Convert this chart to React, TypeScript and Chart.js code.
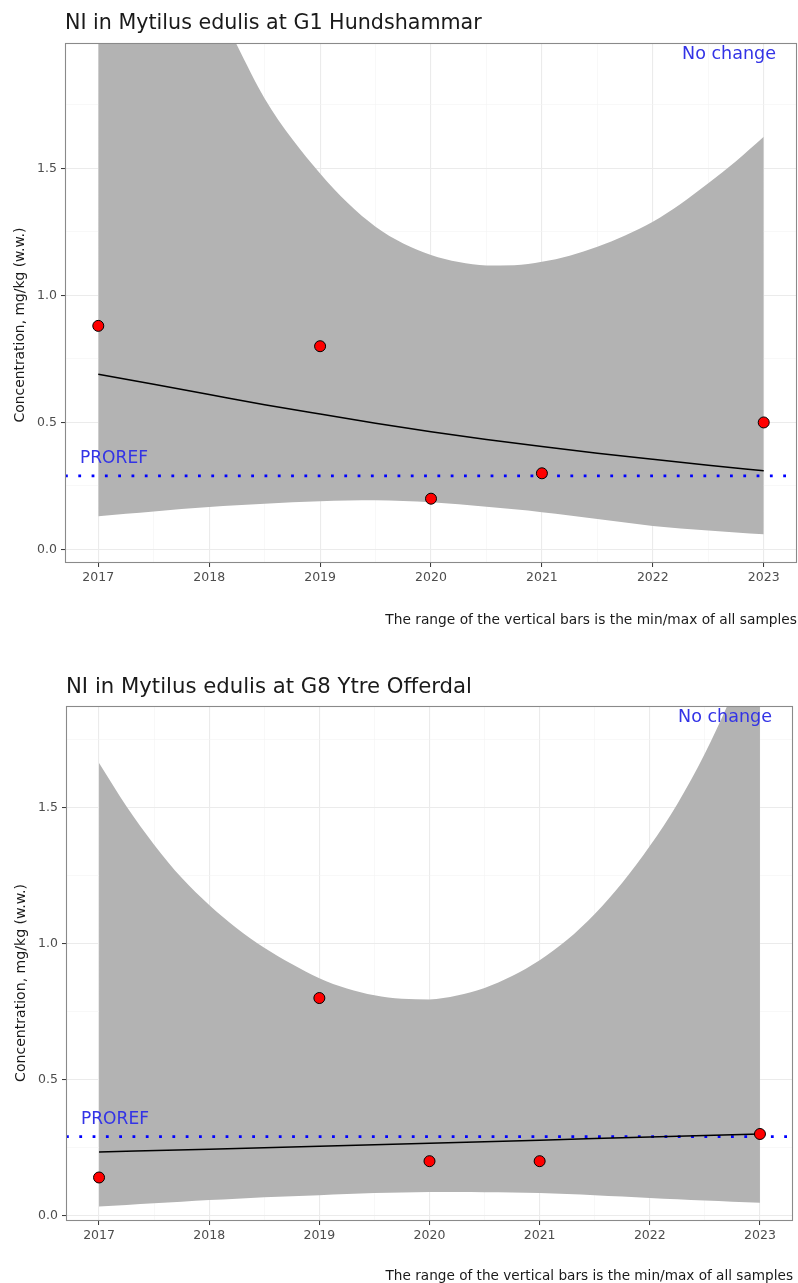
import React, { useEffect, useRef } from 'react';
import { Chart, registerables } from 'chart.js';

Chart.register(...registerables);
Chart.defaults.font.family = '"DejaVu Sans", sans-serif';

// ---------- data ----------
const bandYears = [2017, 2017.25, 2017.5, 2017.75, 2018, 2018.25, 2018.5, 2018.75, 2019, 2019.25, 2019.5, 2019.75, 2020, 2020.25, 2020.5, 2020.75, 2021, 2021.25, 2021.5, 2021.75, 2022, 2022.25, 2022.5, 2022.75, 2023];

const g1Upper = [3.48, 3.14, 2.81, 2.5, 2.21, 1.985, 1.775, 1.614, 1.48, 1.363, 1.27, 1.204, 1.159, 1.131, 1.118, 1.119, 1.132, 1.156, 1.191, 1.236, 1.29, 1.36, 1.441, 1.528, 1.624];
const g1Lower = [0.131, 0.141, 0.15, 0.159, 0.167, 0.174, 0.18, 0.186, 0.19, 0.193, 0.194, 0.191, 0.186, 0.178, 0.168, 0.158, 0.147, 0.134, 0.12, 0.106, 0.093, 0.083, 0.075, 0.067, 0.06];
const g1TrendYears = [2017, 2017.5, 2018, 2018.5, 2019, 2019.5, 2020, 2020.5, 2021, 2021.5, 2022, 2022.5, 2023];
const g1Trend = [0.69, 0.65, 0.61, 0.57, 0.533, 0.497, 0.463, 0.433, 0.405, 0.379, 0.355, 0.332, 0.31];
const g1PointYears = [2017, 2019, 2020, 2021, 2023];
const g1PointValues = [0.88, 0.8, 0.2, 0.3, 0.5];

const g8Upper = [1.664, 1.504, 1.364, 1.242, 1.142, 1.057, 0.985, 0.925, 0.873, 0.835, 0.81, 0.797, 0.795, 0.809, 0.837, 0.881, 0.939, 1.014, 1.109, 1.224, 1.359, 1.514, 1.699, 1.919, 2.179];
const g8Lower = [0.033, 0.039, 0.045, 0.051, 0.057, 0.062, 0.067, 0.071, 0.075, 0.079, 0.083, 0.085, 0.087, 0.087, 0.086, 0.085, 0.083, 0.079, 0.075, 0.07, 0.065, 0.06, 0.055, 0.051, 0.047];
const g8TrendYears = [2017, 2018, 2019, 2020, 2021, 2022, 2023];
const g8Trend = [0.234, 0.244, 0.255, 0.266, 0.277, 0.289, 0.3];
const g8PointYears = [2017, 2019, 2020, 2021, 2023];
const g8PointValues = [0.14, 0.8, 0.2, 0.2, 0.3];

const prorefValue = 0.29;

const xTickValues = [2017, 2017.5, 2018, 2018.5, 2019, 2019.5, 2020, 2020.5, 2021, 2021.5, 2022, 2022.5, 2023];
const yTickValues = [0, 0.25, 0.5, 0.75, 1, 1.25, 1.5, 1.75];

const captionText = 'The range of the vertical bars is the min/max of all samples';
const yTitleText = 'Concentration, mg/kg (w.w.)';

// ---------- helpers ----------
const isMajorX = (v: number) => Math.abs(v - Math.round(v)) < 1e-6;
const isMajorY = (v: number) => Math.abs(v * 2 - Math.round(v * 2)) < 1e-6;

const FONT = '"DejaVu Sans", sans-serif';

function fitFont(ctx: CanvasRenderingContext2D, text: string, width: number) {
  ctx.font = `20px ${FONT}`;
  const w = ctx.measureText(text).width;
  const size = (20 * width) / w;
  return `${size.toFixed(2)}px ${FONT}`;
}

type Spec = {
  title: string;
  height: number;
  padding: { top: number; right: number; bottom: number; left: number };
  yWidth: number;
  xHeight: number;
  yMin: number;
  yMax: number;
  upper: number[];
  lower: number[];
  trendYears: number[];
  trend: number[];
  pointYears: number[];
  pointValues: number[];
  titlePos: { x: number; y: number; w: number };
  yTitlePos: { x: number; y: number; w: number };
  captionPos: { x: number; y: number; w: number };
  prorefPos: { x: number; dy: number; w: number };
  noChangePos: { x: number; y: number; w: number };
};

function makeConfig(spec: Spec): any {
  const annot = {
    id: 'annot',
    afterDatasetsDraw(chart: any) {
      const { ctx, chartArea } = chart;
      ctx.save();
      ctx.strokeStyle = '#8a8a8a';
      ctx.lineWidth = 1.1;
      ctx.strokeRect(chartArea.left + 0.5, chartArea.top + 0.5, chartArea.right - chartArea.left - 1, chartArea.bottom - chartArea.top - 1);
      ctx.restore();
    },
    afterDraw(chart: any) {
      const { ctx } = chart;
      const yScale = chart.scales.y;
      ctx.save();
      ctx.fillStyle = '#1a1a1a';
      ctx.textAlign = 'left';
      ctx.textBaseline = 'alphabetic';
      ctx.font = fitFont(ctx, spec.title, spec.titlePos.w);
      ctx.fillText(spec.title, spec.titlePos.x, spec.titlePos.y);

      ctx.save();
      ctx.translate(spec.yTitlePos.x, spec.yTitlePos.y);
      ctx.rotate(-Math.PI / 2);
      ctx.font = fitFont(ctx, yTitleText, spec.yTitlePos.w);
      ctx.textAlign = 'center';
      ctx.textBaseline = 'middle';
      ctx.fillStyle = '#1a1a1a';
      ctx.fillText(yTitleText, 0, 0);
      ctx.restore();

      ctx.font = fitFont(ctx, captionText, spec.captionPos.w);
      ctx.textAlign = 'right';
      ctx.fillStyle = '#1a1a1a';
      ctx.fillText(captionText, spec.captionPos.x, spec.captionPos.y);

      ctx.font = fitFont(ctx, 'PROREF', spec.prorefPos.w);
      ctx.textAlign = 'left';
      ctx.fillStyle = '#3333e6';
      ctx.fillText('PROREF', spec.prorefPos.x, yScale.getPixelForValue(prorefValue) + spec.prorefPos.dy);

      ctx.font = fitFont(ctx, 'No change', spec.noChangePos.w);
      ctx.textAlign = 'right';
      ctx.fillText('No change', spec.noChangePos.x, spec.noChangePos.y);
      ctx.restore();
    },
  };

  return {
    type: 'line',
    data: {
      datasets: [
        {
          label: 'upper',
          data: bandYears.map((x, i) => ({ x, y: spec.upper[i] })),
          borderWidth: 0,
          borderColor: 'rgba(0,0,0,0)',
          pointRadius: 0,
          fill: false,
          cubicInterpolationMode: 'monotone',
          order: 4,
        },
        {
          label: 'lower',
          data: bandYears.map((x, i) => ({ x, y: spec.lower[i] })),
          borderWidth: 0,
          borderColor: 'rgba(0,0,0,0)',
          backgroundColor: '#b3b3b3',
          pointRadius: 0,
          fill: '-1',
          cubicInterpolationMode: 'monotone',
          order: 3,
        },
        {
          label: 'proref',
          data: [
            { x: 2016.7, y: prorefValue },
            { x: 2023.3, y: prorefValue },
          ],
          borderColor: '#0000ff',
          borderWidth: 2.8,
          borderDash: [2.8, 10.5],
          borderCapStyle: 'butt',
          pointRadius: 0,
          fill: false,
          order: 2,
        },
        {
          label: 'trend',
          data: spec.trendYears.map((x, i) => ({ x, y: spec.trend[i] })),
          borderColor: '#000000',
          borderWidth: 1.5,
          pointRadius: 0,
          fill: false,
          cubicInterpolationMode: 'monotone',
          order: 1,
        },
        {
          label: 'points',
          data: spec.pointYears.map((x, i) => ({ x, y: spec.pointValues[i] })),
          showLine: false,
          pointRadius: 5.5,
          pointBackgroundColor: '#ff0000',
          pointBorderColor: '#000000',
          pointBorderWidth: 1,
          fill: false,
          order: 0,
        },
      ],
    },
    options: {
      animation: false,
      responsive: false,
      devicePixelRatio: 1,
      layout: { padding: spec.padding, autoPadding: false },
      plugins: {
        legend: { display: false },
        tooltip: { enabled: false },
        title: { display: false },
      },
      scales: {
        x: {
          type: 'linear',
          min: 2016.7,
          max: 2023.3,
          afterBuildTicks: (scale: any) => {
            scale.ticks = xTickValues.map((v) => ({ value: v }));
          },
          afterFit: (scale: any) => {
            scale.height = spec.xHeight;
            scale.paddingLeft = 0;
            scale.paddingRight = 0;
            scale.paddingTop = 0;
            scale.paddingBottom = 0;
          },
          ticks: {
            autoSkip: false,
            maxRotation: 0,
            padding: 3,
            color: '#4d4d4d',
            font: { size: 12.5, family: FONT },
            callback: (v: number) => (isMajorX(v) ? String(Math.round(v)) : ''),
          },
          grid: {
            color: (c: any) => (isMajorX(c.tick?.value ?? 0) ? '#ebebeb' : '#f4f4f4'),
            lineWidth: (c: any) => (isMajorX(c.tick?.value ?? 0) ? 1.1 : 0.6),
            tickColor: (c: any) => (isMajorX(c.tick?.value ?? 0) ? '#333333' : 'rgba(0,0,0,0)'),
            tickLength: 4,
            tickWidth: 1,
          },
          border: { display: false },
        },
        y: {
          type: 'linear',
          min: spec.yMin,
          max: spec.yMax,
          afterBuildTicks: (scale: any) => {
            scale.ticks = yTickValues.filter((v) => v <= spec.yMax).map((v) => ({ value: v }));
          },
          afterFit: (scale: any) => {
            scale.width = spec.yWidth;
            scale.paddingLeft = 0;
            scale.paddingRight = 0;
            scale.paddingTop = 0;
            scale.paddingBottom = 0;
          },
          ticks: {
            autoSkip: false,
            padding: 4,
            color: '#4d4d4d',
            font: { size: 12.5, family: FONT },
            callback: (v: number) => (isMajorY(v) ? v.toFixed(1) : ''),
          },
          grid: {
            color: (c: any) => (isMajorY(c.tick?.value ?? 0) ? '#ebebeb' : '#f4f4f4'),
            lineWidth: (c: any) => (isMajorY(c.tick?.value ?? 0) ? 1.1 : 0.6),
            tickColor: (c: any) => (isMajorY(c.tick?.value ?? 0) ? '#333333' : 'rgba(0,0,0,0)'),
            tickLength: 4,
            tickWidth: 1,
          },
          border: { display: false },
        },
      },
    },
    plugins: [annot],
  };
}

const spec1: Spec = {
  title: 'NI in Mytilus edulis at G1 Hundshammar',
  height: 641,
  padding: { top: 43, right: 1, bottom: 0, left: 0 },
  yWidth: 65,
  xHeight: 78,
  yMin: -0.053,
  yMax: 1.993,
  upper: g1Upper,
  lower: g1Lower,
  trendYears: g1TrendYears,
  trend: g1Trend,
  pointYears: g1PointYears,
  pointValues: g1PointValues,
  titlePos: { x: 65, y: 29, w: 417 },
  yTitlePos: { x: 20, y: 325, w: 195 },
  captionPos: { x: 797, y: 624, w: 412 },
  prorefPos: { x: 80, dy: -13, w: 68 },
  noChangePos: { x: 776, y: 59, w: 94 },
};

const spec2: Spec = {
  title: 'NI in Mytilus edulis at G8 Ytre Offerdal',
  height: 642,
  padding: { top: 65, right: 5, bottom: 0, left: 0 },
  yWidth: 66,
  xHeight: 62,
  yMin: -0.02,
  yMax: 1.874,
  upper: g8Upper,
  lower: g8Lower,
  trendYears: g8TrendYears,
  trend: g8Trend,
  pointYears: g8PointYears,
  pointValues: g8PointValues,
  titlePos: { x: 66, y: 52, w: 406 },
  yTitlePos: { x: 21, y: 342, w: 198 },
  captionPos: { x: 793, y: 639, w: 408 },
  prorefPos: { x: 81, dy: -13, w: 68 },
  noChangePos: { x: 772, y: 81, w: 94 },
};

function ChartPanel({ spec }: { spec: Spec }) {
  const ref = useRef<HTMLCanvasElement | null>(null);
  useEffect(() => {
    if (!ref.current) return;
    const chart = new Chart(ref.current, makeConfig(spec));
    return () => chart.destroy();
  }, [spec]);
  return <canvas ref={ref} width={798} height={spec.height} style={{ display: 'block', width: 798, height: spec.height }} />;
}

export default function App() {
  return (
    <div style={{ position: 'absolute', top: 0, left: 0, width: 798, height: 1283, background: '#ffffff' }}>
      <ChartPanel spec={spec1} />
      <ChartPanel spec={spec2} />
    </div>
  );
}
